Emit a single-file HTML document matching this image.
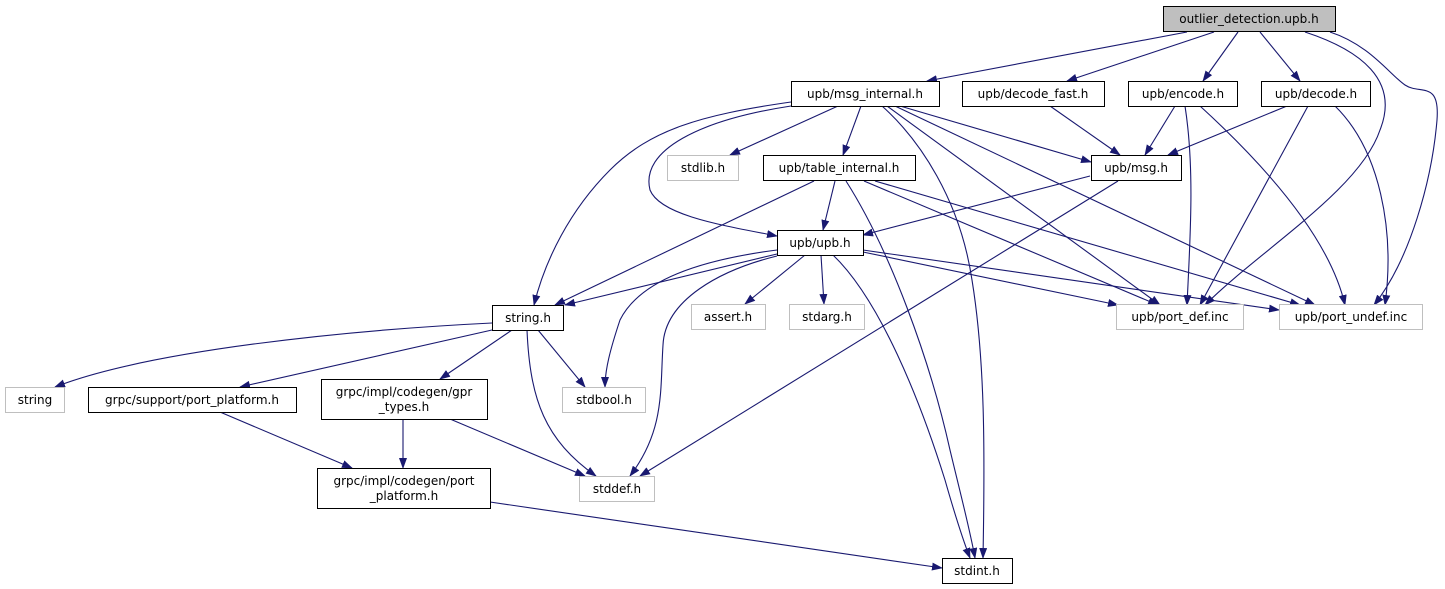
<!DOCTYPE html>
<html><head><meta charset="utf-8"><style>
html,body{margin:0;padding:0;background:#fff;}
svg{display:block;}
text{font-family:"DejaVu Sans","Liberation Sans",sans-serif;font-size:12px;fill:#000;}
</style></head><body>
<svg width="1445" height="589" viewBox="0 0 1445 589" xmlns="http://www.w3.org/2000/svg">
<defs><marker id="a" markerWidth="11" markerHeight="8" refX="10" refY="4" orient="auto" markerUnits="userSpaceOnUse"><path d="M0,0 L11,4 L0,8 z" fill="#191970"/></marker></defs>
<g fill="none" stroke="#191970" stroke-width="1.1" marker-end="url(#a)">
<path d="M1187,32 L927,81"/>
<path d="M1214,32 L1067,81"/>
<path d="M1238,32 L1203,81"/>
<path d="M1260,32 L1300,81"/>
<path d="M1305,32 C1360,50 1400,80 1380,130 C1360,190 1260,250 1205,305"/>
<path d="M1330,32 C1370,45 1390,75 1405,85 C1420,95 1440,80 1437,120 C1432,180 1410,260 1374,305"/>
<path d="M791,102 C700,115 650,130 610,170 C570,210 545,260 534,305"/>
<path d="M791,106 C700,120 640,150 650,190 C660,215 720,225 777,236"/>
<path d="M838,106 L730,155"/>
<path d="M861,106 L843,155"/>
<path d="M882,106 C920,140 960,200 972,280 C985,360 985,450 983,558"/>
<path d="M900,106 L1091,162"/>
<path d="M887,106 L1160,305"/>
<path d="M895,106 L1315,305"/>
<path d="M1050,106 L1120,155"/>
<path d="M1175,106 L1145,155"/>
<path d="M1185,106 C1195,170 1190,240 1187,305"/>
<path d="M1200,106 C1270,170 1330,240 1345,305"/>
<path d="M1287,106 L1168,155"/>
<path d="M1308,106 L1200,305"/>
<path d="M1335,106 C1380,150 1395,230 1385,305"/>
<path d="M814,181 L555,305"/>
<path d="M835,181 L823,230"/>
<path d="M846,181 C890,250 930,360 950,450 C962,500 970,530 975,558"/>
<path d="M864,181 L1158,305"/>
<path d="M875,181 L1300,305"/>
<path d="M1090,176 L863,235"/>
<path d="M1118,181 L640,476"/>
<path d="M777,254 L565,305"/>
<path d="M777,250 C700,260 640,280 620,320 C610,350 605,370 605,387"/>
<path d="M777,256 C720,270 665,300 663,345 C660,390 665,430 630,476"/>
<path d="M805,255 L745,304"/>
<path d="M821,255 L824,304"/>
<path d="M833,255 C880,300 920,400 945,480 C955,515 963,540 970,558"/>
<path d="M863,252 L1118,305"/>
<path d="M863,250 L1279,310"/>
<path d="M492,323 C350,330 150,350 55,387"/>
<path d="M492,330 L240,387"/>
<path d="M512,330 L440,379"/>
<path d="M538,330 L585,387"/>
<path d="M527,330 C530,400 545,440 596,476"/>
<path d="M220,412 L352,468"/>
<path d="M403,419 L403,468"/>
<path d="M450,419 L585,476"/>
<path d="M490,502 L942,568"/>
</g>
<g stroke-width="1">
<rect x="1163.5" y="6.5" width="172" height="25" fill="#bfbfbf" stroke="#000"/>
<rect x="791.5" y="81.5" width="148" height="25" fill="#fff" stroke="#000"/>
<rect x="962.5" y="81.5" width="142" height="25" fill="#fff" stroke="#000"/>
<rect x="1128.5" y="81.5" width="109" height="25" fill="#fff" stroke="#000"/>
<rect x="1261.5" y="81.5" width="109" height="25" fill="#fff" stroke="#000"/>
<rect x="667.5" y="155.5" width="71" height="25" fill="#fff" stroke="#bfbfbf"/>
<rect x="763.5" y="155.5" width="152" height="25" fill="#fff" stroke="#000"/>
<rect x="1091.5" y="155.5" width="90" height="25" fill="#fff" stroke="#000"/>
<rect x="777.5" y="230.5" width="86" height="25" fill="#fff" stroke="#000"/>
<rect x="492.5" y="305.5" width="71" height="25" fill="#fff" stroke="#000"/>
<rect x="691.5" y="304.5" width="74" height="25" fill="#fff" stroke="#bfbfbf"/>
<rect x="789.5" y="304.5" width="75" height="25" fill="#fff" stroke="#bfbfbf"/>
<rect x="1116.5" y="304.5" width="127" height="25" fill="#fff" stroke="#bfbfbf"/>
<rect x="1279.5" y="304.5" width="143" height="25" fill="#fff" stroke="#bfbfbf"/>
<rect x="5.5" y="387.5" width="59" height="25" fill="#fff" stroke="#bfbfbf"/>
<rect x="88.5" y="387.5" width="208" height="25" fill="#fff" stroke="#000"/>
<rect x="321.5" y="379.5" width="166" height="40" fill="#fff" stroke="#000"/>
<rect x="562.5" y="387.5" width="83" height="25" fill="#fff" stroke="#bfbfbf"/>
<rect x="317.5" y="468.5" width="173" height="40" fill="#fff" stroke="#000"/>
<rect x="579.5" y="476.5" width="75" height="25" fill="#fff" stroke="#bfbfbf"/>
<rect x="942.5" y="558.5" width="70" height="25" fill="#fff" stroke="#000"/>
</g>
<g text-anchor="middle">
<text x="1249" y="23">outlier_detection.upb.h</text>
<text x="865" y="98">upb/msg_internal.h</text>
<text x="1033" y="98">upb/decode_fast.h</text>
<text x="1183" y="98">upb/encode.h</text>
<text x="1316" y="98">upb/decode.h</text>
<text x="703" y="172">stdlib.h</text>
<text x="839" y="172">upb/table_internal.h</text>
<text x="1136" y="172">upb/msg.h</text>
<text x="820" y="247">upb/upb.h</text>
<text x="528" y="322">string.h</text>
<text x="728" y="321">assert.h</text>
<text x="827" y="321">stdarg.h</text>
<text x="1180" y="321">upb/port_def.inc</text>
<text x="1351" y="321">upb/port_undef.inc</text>
<text x="35" y="404">string</text>
<text x="192" y="404">grpc/support/port_platform.h</text>
<text x="404" y="396">grpc/impl/codegen/gpr</text>
<text x="404" y="411">_types.h</text>
<text x="604" y="404">stdbool.h</text>
<text x="404" y="485">grpc/impl/codegen/port</text>
<text x="404" y="500">_platform.h</text>
<text x="617" y="493">stddef.h</text>
<text x="977" y="575">stdint.h</text>
</g>
</svg>
</body></html>
